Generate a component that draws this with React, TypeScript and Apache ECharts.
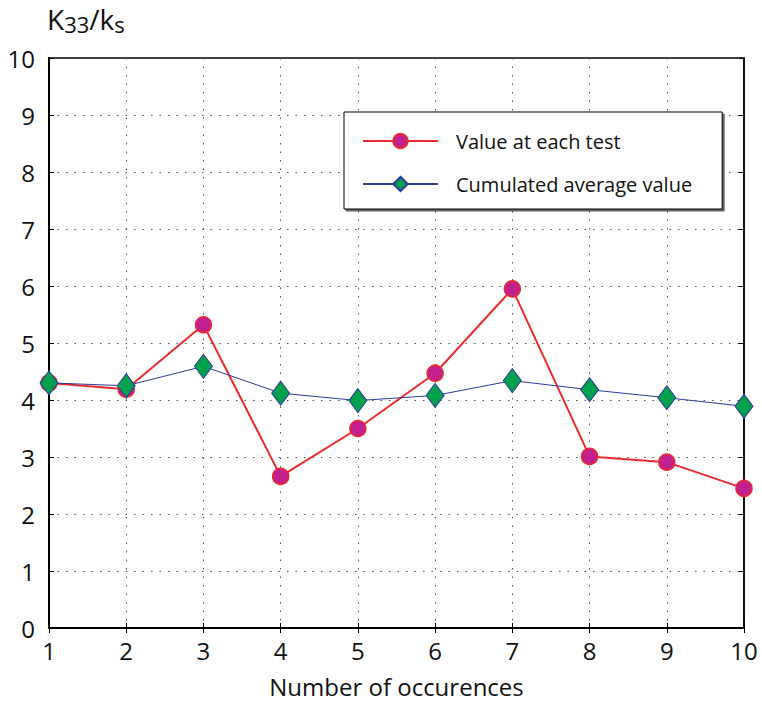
import React, { useEffect, useRef } from "react";
import * as echarts from "echarts";

const occurrences = [1, 2, 3, 4, 5, 6, 7, 8, 9, 10];
const valueAtEachTest = [4.3, 4.19, 5.32, 2.66, 3.5, 4.47, 5.95, 3.01, 2.91, 2.45];
const cumulatedAverage = [4.3, 4.25, 4.59, 4.12, 3.99, 4.08, 4.34, 4.18, 4.04, 3.89];
const seriesNames = ["Value at each test", "Cumulated average value"];
const xTitle = "Number of occurences";

const FONT = "'Open Sans', 'Noto Sans', sans-serif";

export default function App() {
  const ref = useRef<HTMLDivElement>(null);
  useEffect(() => {
    if (!ref.current) return;
    const chart = echarts.init(ref.current, null, { renderer: "svg" });
    const dotted = { color: "#555", width: 1, type: [1.5, 7] as any };
    const option: any = {
      animation: false,
      backgroundColor: "#fff",
      textStyle: { fontFamily: FONT },
      grid: {
        left: 49,
        right: 18,
        top: 58,
        bottom: 76,
        show: true,
        borderColor: "#000",
        borderWidth: 1.5,
      },
      xAxis: [
        {
          type: "value",
          min: 1,
          max: 10,
          interval: 1,
          name: xTitle,
          nameLocation: "middle",
          nameGap: 46,
          nameTextStyle: { fontSize: 24, color: "#111", fontFamily: FONT },
          axisLine: { show: true, lineStyle: { color: "#000", width: 2 } },
          axisTick: { show: true, inside: true, length: 5, lineStyle: { color: "#000" } },
          axisLabel: { fontSize: 24, color: "#111", margin: 10, fontFamily: FONT },
          splitLine: { show: true, lineStyle: dotted },
        },
        {
          type: "value",
          min: 1,
          max: 10,
          interval: 1,
          position: "top",
          axisLine: { show: true, lineStyle: { color: "#000", width: 1.5 } },
          axisTick: { show: true, inside: true, length: 5, lineStyle: { color: "#000" } },
          axisLabel: { show: false },
          splitLine: { show: false },
        },
      ],
      yAxis: [
        {
          type: "value",
          min: 0,
          max: 10,
          interval: 1,
          axisLine: { show: true, lineStyle: { color: "#000", width: 2 } },
          axisTick: { show: true, inside: true, length: 5, lineStyle: { color: "#000" } },
          axisLabel: { fontSize: 24, color: "#111", margin: 14, fontFamily: FONT },
          splitLine: { show: true, lineStyle: dotted },
        },
        {
          type: "value",
          min: 0,
          max: 10,
          interval: 1,
          position: "right",
          axisLine: { show: true, lineStyle: { color: "#000", width: 1.5 } },
          axisTick: { show: true, inside: true, length: 5, lineStyle: { color: "#000" } },
          axisLabel: { show: false },
          splitLine: { show: false },
        },
      ],
      legend: {
        orient: "vertical",
        left: 344,
        top: 112,
        padding: [19, 30, 15, 18],
        itemWidth: 75,
        itemHeight: 18,
        itemGap: 23,
        backgroundColor: "#fff",
        borderColor: "#000",
        borderWidth: 1,
        shadowColor: "rgba(0,0,0,0.6)",
        shadowOffsetX: 2,
        shadowOffsetY: 2,
        shadowBlur: 0,
        textStyle: { fontSize: 20, color: "#111", fontFamily: FONT, padding: [0, 0, 0, 13] },
        data: seriesNames,
      },
      graphic: [
        {
          type: "text",
          left: 47,
          top: 5,
          style: {
            text: "K{sub|33}/k{sub|s}",
            fontSize: 28,
            fontFamily: FONT,
            fill: "#111",
            rich: {
              sub: { fontSize: 22, verticalAlign: "bottom", padding: [10, 0, 0, 0], fontFamily: FONT },
            },
          },
        },
      ],
      series: [
        {
          name: seriesNames[0],
          type: "line",
          data: occurrences.map((x, i) => [x, valueAtEachTest[i]]),
          symbol: "circle",
          symbolSize: 16,
          lineStyle: { color: "#ee2a2f", width: 2 },
          itemStyle: { color: "#c2208e", borderColor: "#ee2a2f", borderWidth: 1.5 },
          z: 3,
        },
        {
          name: seriesNames[1],
          type: "line",
          data: occurrences.map((x, i) => [x, cumulatedAverage[i]]),
          symbol: "diamond",
          symbolSize: [18, 24],
          lineStyle: { color: "#2e3a9a", width: 1 },
          itemStyle: { color: "#00a04c", borderColor: "#2e3a9a", borderWidth: 1 },
          z: 4,
        },
      ],
    };
    chart.setOption(option);
    return () => chart.dispose();
  }, []);
  return <div ref={ref} style={{ width: 762, height: 704, position: "absolute", left: 0, top: 0 }} />;
}
